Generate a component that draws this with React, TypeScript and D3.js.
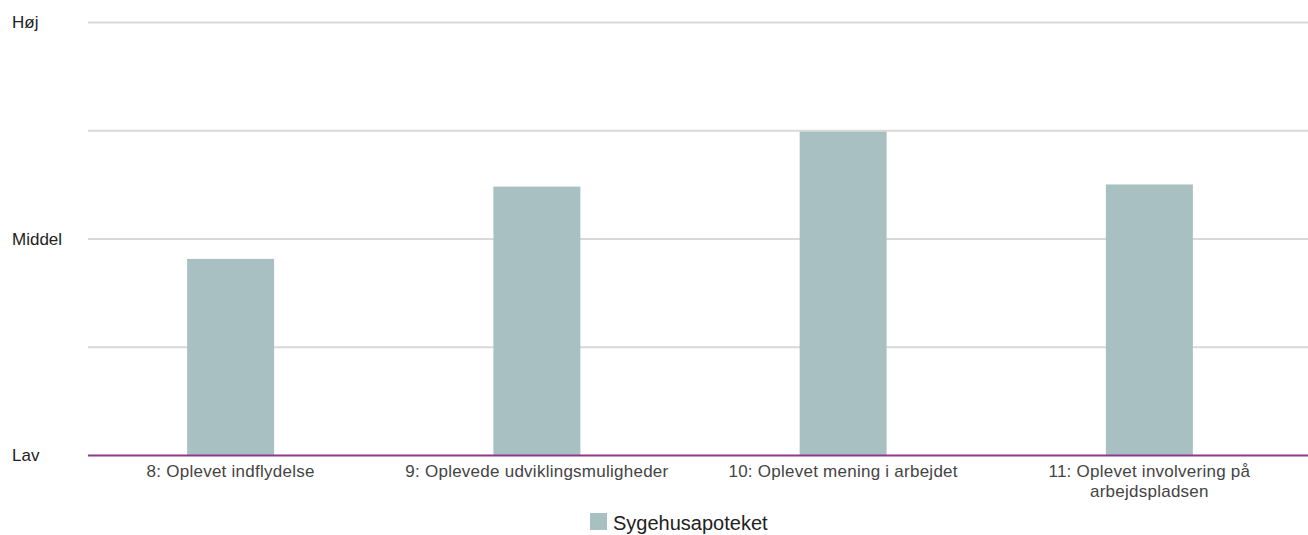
import React, { useEffect, useRef } from "react";
import * as d3 from "d3";

const categories = [
  "8: Oplevet indflydelse",
  "9: Oplevede udviklingsmuligheder",
  "10: Oplevet mening i arbejdet",
  "11: Oplevet involvering på arbejdspladsen",
];
const values = [45.4, 62.1, 74.8, 62.6];
const seriesName = "Sygehusapoteket";
const yTicks = [0, 25, 50, 75, 100];
const yTickLabels: Record<number, string> = { 0: "Lav", 50: "Middel", 100: "Høj" };

const W = 1308;
const H = 535;
const FONT = "'Liberation Sans', Arial, Helvetica, sans-serif";

export default function App() {
  const ref = useRef<SVGSVGElement>(null);

  useEffect(() => {
    const svg = d3.select(ref.current);
    svg.selectAll("*").remove();

    const gridLeft = 88;
    const gridRight = 1308;
    const y = d3.scaleLinear().domain([0, 100]).range([455.5, 22.5]);
    const x = d3
      .scaleBand<string>()
      .domain(categories)
      .range([77.5, 1302.5])
      .paddingInner(0.716)
      .paddingOuter(0.358);

    // gridlines
    svg
      .append("g")
      .selectAll("line")
      .data(yTicks.filter((t) => t !== 0))
      .join("line")
      .attr("x1", gridLeft)
      .attr("x2", gridRight)
      .attr("y1", (d) => y(d))
      .attr("y2", (d) => y(d))
      .attr("stroke", "#d9d9d9")
      .attr("stroke-width", 2);

    // y labels
    svg
      .append("g")
      .selectAll("text")
      .data(yTicks.filter((t) => yTickLabels[t] !== undefined))
      .join("text")
      .attr("x", 12)
      .attr("y", (d) => y(d))
      .attr("dy", "0.35em")
      .attr("font-family", FONT)
      .attr("font-size", 17)
      .attr("fill", "#222")
      .text((d) => yTickLabels[d]);

    // bars
    svg
      .append("g")
      .selectAll("rect")
      .data(values)
      .join("rect")
      .attr("x", (_, i) => x(categories[i])!)
      .attr("width", x.bandwidth())
      .attr("y", (d) => y(d))
      .attr("height", (d) => y(0) - y(d))
      .attr("fill", "#a9c0c2");

    // baseline axis
    svg
      .append("line")
      .attr("x1", gridLeft)
      .attr("x2", gridRight)
      .attr("y1", y(0))
      .attr("y2", y(0))
      .attr("stroke", "#8e3a8c")
      .attr("stroke-width", 2);

    // category labels with wrap
    const maxW = x.step() * 0.95;
    const lg = svg.append("g");
    categories.forEach((c) => {
      const t = lg
        .append("text")
        .attr("x", x(c)! + x.bandwidth() / 2)
        .attr("y", 477)
        .attr("text-anchor", "middle")
        .attr("font-family", FONT)
        .attr("font-size", 17)
        .attr("letter-spacing", 0.25)
        .attr("fill", "#444");
      const words = c.split(" ");
      let line: string[] = [];
      let lineNo = 0;
      let tspan = t.append("tspan").attr("x", x(c)! + x.bandwidth() / 2).attr("dy", 0);
      for (const w of words) {
        line.push(w);
        tspan.text(line.join(" "));
        if ((tspan.node() as SVGTSpanElement).getComputedTextLength() > maxW && line.length > 1) {
          line.pop();
          tspan.text(line.join(" "));
          line = [w];
          lineNo++;
          tspan = t
            .append("tspan")
            .attr("x", x(c)! + x.bandwidth() / 2)
            .attr("dy", 20)
            .text(w);
        }
      }
    });

    // legend
    const leg = svg.append("g");
    leg
      .append("rect")
      .attr("x", 590)
      .attr("y", 513)
      .attr("width", 17)
      .attr("height", 17)
      .attr("fill", "#a9c0c2");
    leg
      .append("text")
      .attr("x", 613)
      .attr("y", 530)
      .attr("font-family", FONT)
      .attr("font-size", 20)
      .attr("fill", "#222")
      .text(seriesName);
  }, []);

  return (
    <svg
      ref={ref}
      width={W}
      height={H}
      style={{ position: "absolute", left: 0, top: 0, background: "#fff" }}
    />
  );
}
